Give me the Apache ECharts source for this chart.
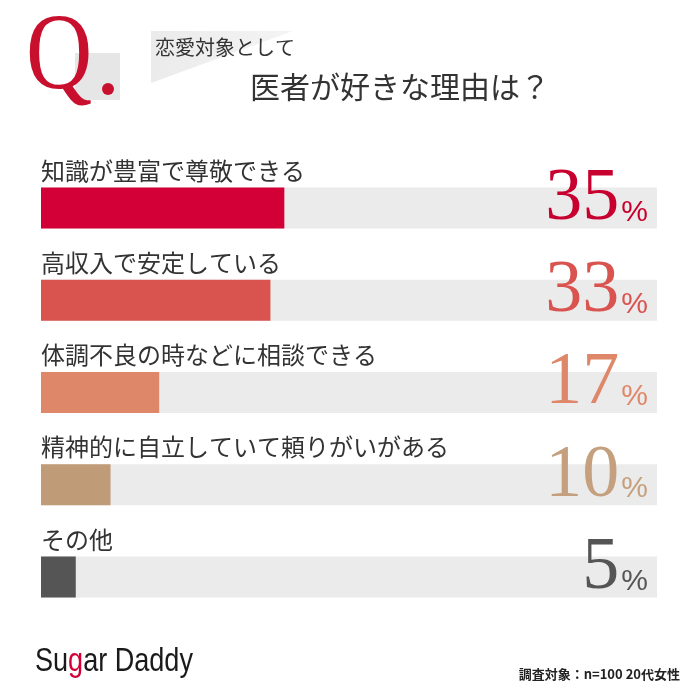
<!DOCTYPE html>
<html><head><meta charset="utf-8">
<script src="https://cdn.jsdelivr.net/npm/echarts@6/dist/echarts.min.js"></script>
<style>html,body{margin:0;padding:0;background:#fff}#c{width:700px;height:700px}</style>
</head><body><div id="c"></div>
<script>
const categories = ['知識が豊富で尊敬できる','高収入で安定している','体調不良の時などに相談できる','精神的に自立していて頼りがいがある','その他'];
const values = [35, 33, 17, 10, 5];
const barColors = ['#d20037','#d9534f','#df8769','#bf9b77','#555555'];
const numColors = ['#c8002f','#d9534f','#df8769','#c4a07e','#555555'];
const axisMax = 88.6;

const chart = echarts.init(document.getElementById('c'), null, {renderer:'canvas'});
const jp = '"Noto Sans CJK JP", "Noto Sans", sans-serif';
const rich = {};
numColors.forEach((c,i)=>{
  rich['n'+i] = {fontFamily:'"Liberation Serif", serif', fontSize:74, color:c, verticalAlign:'bottom', lineHeight:60};
  rich['p'+i] = {fontFamily:'"Liberation Sans", sans-serif', fontSize:30, color:c, verticalAlign:'bottom', lineHeight:30, padding:[0,0,9,2]};
});
chart.setOption({
  animation:false,
  grid:{left:41, width:616, top:162, height:461},
  xAxis:{type:'value', min:0, max:axisMax, show:false},
  yAxis:{type:'category', data:categories, inverse:true, show:false},
  series:[
    {type:'bar', data:values.map((v,i)=>({value:v, itemStyle:{color:barColors[i]}})),
     barWidth:41, showBackground:true, backgroundStyle:{color:'#ebebeb'},
     label:{show:true, position:[0,-17], formatter:p=>categories[p.dataIndex], fontFamily:jp, fontSize:24, color:'#333', align:'left', verticalAlign:'middle'}
    },
    {type:'bar', data:values.map(()=>axisMax), barWidth:41, barGap:'-100%', itemStyle:{color:'transparent'}, silent:true,
     label:{show:true, position:'insideBottomRight', distance:9, offset:[0,17], formatter:p=>'{n'+p.dataIndex+'|'+values[p.dataIndex]+'}{p'+p.dataIndex+'|%}', rich:rich}
    }
  ],
  graphic:[
    {type:'rect', shape:{x:75,y:53,width:45,height:47}, style:{fill:'#e6e6e6'}},
    {type:'text', left:26, top:6, scaleX:0.85, style:{text:'Q', font:'108px "Liberation Serif", serif', fill:'#c8102e'}},
    {type:'circle', shape:{cx:108,cy:89,r:6}, style:{fill:'#c8102e'}},
    {type:'polygon', shape:{points:[[151,31],[293,31],[151,83]]}, style:{fill:new echarts.graphic.LinearGradient(0,0,1,0,[{offset:0,color:'#ebebeb'},{offset:1,color:'#f4f4f4'}])}},
    {type:'text', left:155, top:37, style:{text:'恋愛対象として', font:'20px '+jp, fill:'#333'}},
    {type:'text', left:250, top:72, style:{text:'医者が好きな理由は？', font:'30px '+jp, fill:'#333'}},
    {type:'text', left:35, top:645, scaleX:0.82, style:{text:'{a|Su}{g|g}{a|ar Daddy}', rich:{a:{font:'33px "Liberation Sans Narrow", "Liberation Sans", sans-serif', fill:'#1a1a1a'}, g:{font:'33px "Liberation Sans Narrow", "Liberation Sans", sans-serif', fill:'#d20037'}}}},
    {type:'text', right:20, top:668, style:{text:'調査対象：n=100 20代女性', font:'bold 13px '+jp, fill:'#222'}}
  ]
});
</script></body></html>
